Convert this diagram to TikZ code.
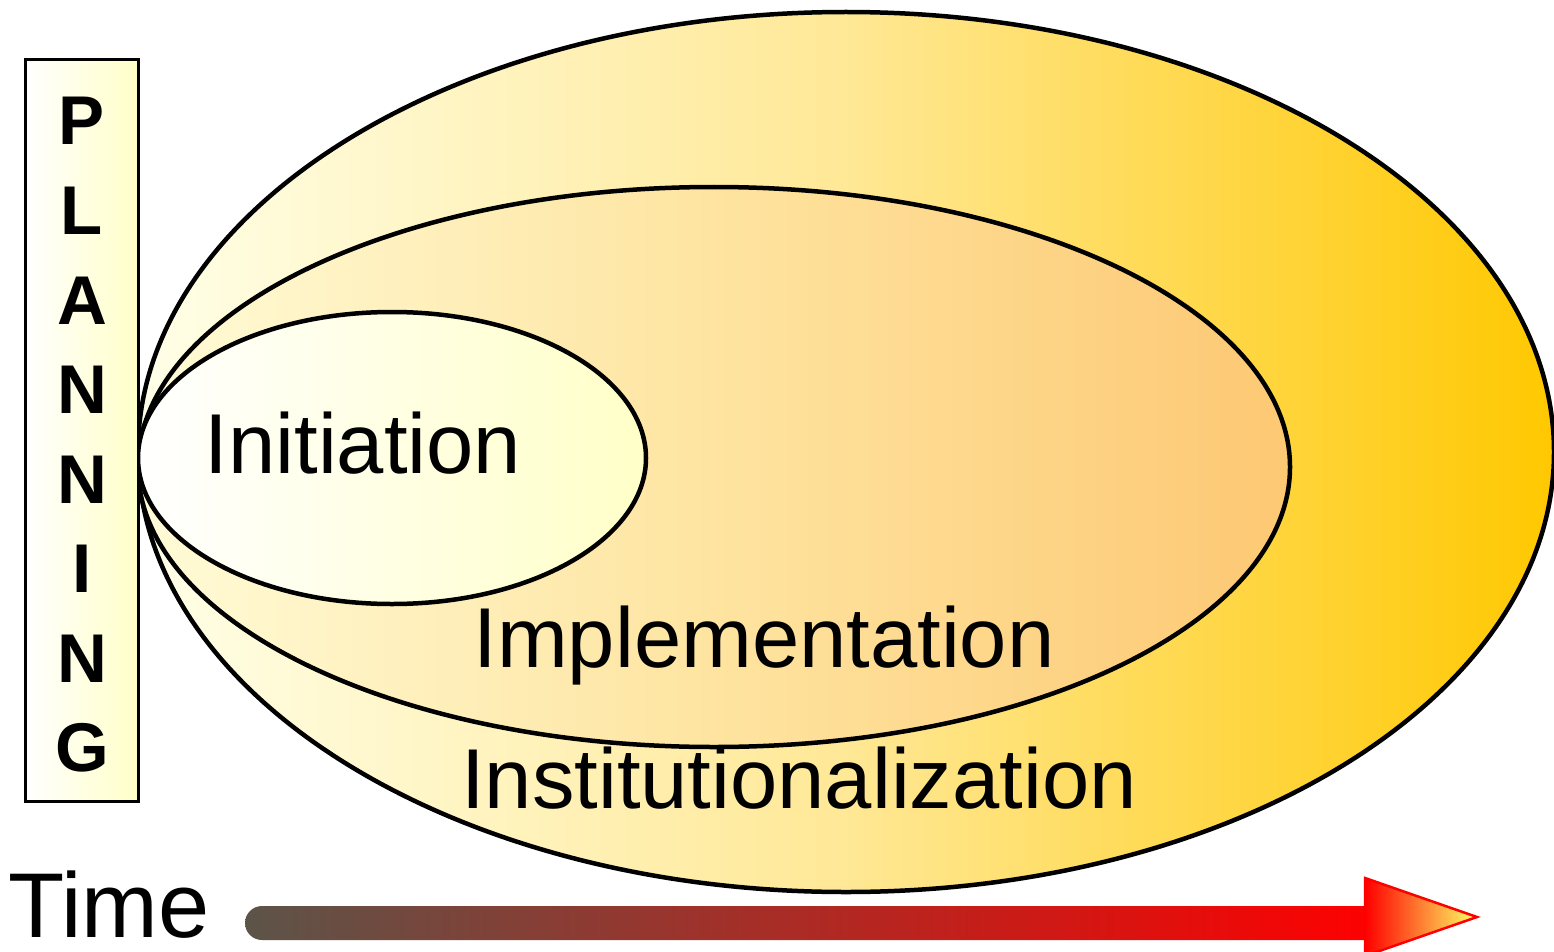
\documentclass[tikz,border=0pt]{standalone}
\usepackage{fontspec}
\setmainfont{Liberation Sans}
\begin{document}
\begin{tikzpicture}[x=1pt,y=-1pt,
  ring/.style={draw=black,line width=4.5pt},
  label/.style={font=\fontsize{85}{85}\selectfont,inner sep=0pt,anchor=base},
  letter/.style={font=\fontsize{69}{69}\selectfont\bfseries,inner sep=0pt,anchor=base}]
\useasboundingbox (0,0) rectangle (1554,952);
% outer ellipse
\shade[left color=white!85!yellow!60, right color={rgb,255:red,255;green,200;blue,0}, middle color={rgb,255:red,255;green,232;blue,150}]
  (846,452) ellipse [x radius=708, y radius=440];
\draw[ring] (846,452) ellipse [x radius=708, y radius=440];
% middle ellipse
\shade[left color={rgb,255:red,255;green,251;blue,215}, right color={rgb,255:red,253;green,200;blue,115}, middle color={rgb,255:red,254;green,228;blue,160}]
  (714,467) ellipse [x radius=576, y radius=280];
\draw[ring] (714,467) ellipse [x radius=576, y radius=280];
% inner ellipse
\shade[left color=white, right color={rgb,255:red,255;green,255;blue,200}]
  (392,458) ellipse [x radius=254, y radius=146];
\draw[ring] (392,458) ellipse [x radius=254, y radius=146];
% planning box
\shade[left color=white, right color={rgb,255:red,255;green,255;blue,200}] (25,60) rectangle (138,801);
\draw[line width=3pt] (25,60) rectangle (138,801);
\foreach \c/\y [count=\i] in {P/145,L/234,A/324,N/413,N/503,I/592,N/682,G/771}
  \node[letter] (pl\i) at (82,\y) {\c};
% labels
\node[label] (init) at (363,473) {Initiation};
\node[label] (impl) at (764,667) {Implementation};
\node[label] (inst) at (799,808) {Institutionalization};
\node[font=\fontsize{92}{92}\selectfont,inner sep=0pt,anchor=base west] (time) at (8,937) {Time};
% time arrow
\shade[left color={rgb,255:red,92;green,84;blue,72}, right color=red, rounded corners=17pt] (245,906) rectangle (1383,940);
\coordinate (htop) at (1365,878);
\coordinate (hbot) at (1365,956);
\coordinate (htip) at (1477,917);
\shade[left color=red, right color={rgb,255:red,255;green,255;blue,100}] (htop) -- (htip) -- (hbot) -- cycle;
\draw[red,line width=2.5pt,line join=miter] (htop) -- (htip) -- (hbot) -- cycle;
\end{tikzpicture}
\end{document}
